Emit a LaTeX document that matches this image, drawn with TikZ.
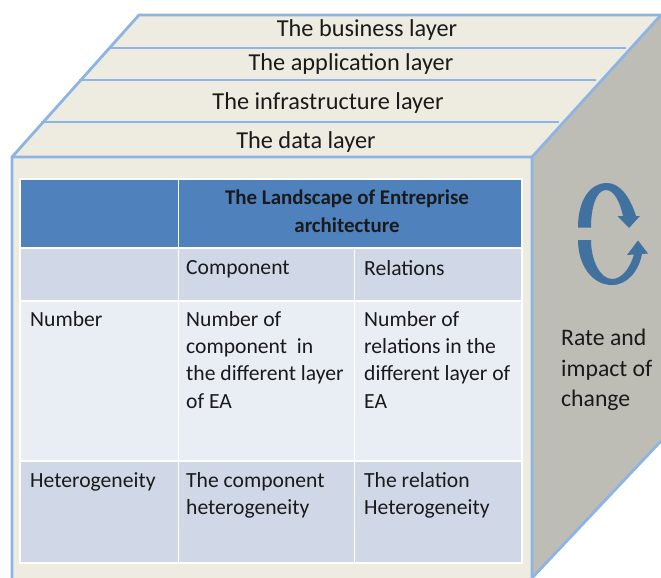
\documentclass[tikz,border=0pt]{standalone}
\usepackage{fontspec}
\setmainfont{Carlito}
\definecolor{facecol}{HTML}{EEECE1}
\definecolor{sidecol}{HTML}{BEBDB5}
\definecolor{edgecol}{HTML}{8DB4E3}
\definecolor{headcol}{HTML}{4F81BD}
\definecolor{banddark}{HTML}{D0D8E8}
\definecolor{bandlight}{HTML}{E9EDF4}
\definecolor{arrowcol}{HTML}{41719F}
\definecolor{textcol}{HTML}{1A1A1A}
\tikzset{
  edge line/.style={draw=edgecol,line width=2.8pt,line join=miter},
  layer line/.style={draw=edgecol,line width=1.6pt},
  layer text/.style={font=\fontsize{24.4}{27}\selectfont,text=textcol,inner sep=0pt,anchor=center},
  cell text/.style={font=\fontsize{21.7}{27.4}\selectfont,text=textcol,inner sep=0pt,anchor=north west,align=left},
  head text/.style={font=\bfseries\fontsize{21}{28}\selectfont,text=textcol,inner sep=0pt,align=center},
  cell line/.style={draw=white,line width=1.8pt},
  loop arrow/.style={fill=arrowcol,draw=none}
}
\begin{document}
\begin{tikzpicture}[x=1bp,y=-1bp]
\useasboundingbox[fill=white] (0,0) rectangle (661,578);
% faces
\path[fill=sidecol] (532,157) -- (661,15) -- (661,441) -- (532,578) -- cycle;
\path[fill=facecol] (12,157) -- (139,15) -- (661,15) -- (532,157) -- cycle;
\path[fill=facecol] (12,157) rectangle (532,578);
% layer separators
\draw[layer line] (109,48) -- (626,48);
\draw[layer line] (79,80) -- (596,80);
\draw[layer line] (41,122) -- (559,122);
% cube edges
\draw[edge line] (12,578) -- (12,157) -- (139,15) -- (661,15);
\draw[edge line] (12,157) -- (532,157) -- (661,15);
\draw[edge line] (532,157) -- (532,578) -- (661,441);
% layer labels
\node[layer text] (business) at (367,30) {The business layer};
\node[layer text] (application) at (351,64) {The application layer};
\node[layer text] (infrastructure) at (328,103) {The infrastructure layer};
\node[layer text] (data) at (306,142) {The data layer};
% table fills
\fill[headcol] (20,179) rectangle (522,248);
\fill[banddark] (20,248) rectangle (522,301);
\fill[bandlight] (20,301) rectangle (522,461);
\fill[banddark] (20,461) rectangle (522,563);
% table grid
\draw[cell line] (19,179) -- (523,179);
\draw[cell line] (19,248) -- (523,248);
\draw[cell line] (19,301) -- (523,301);
\draw[cell line] (19,461) -- (523,461);
\draw[cell line] (19,563) -- (523,563);
\draw[cell line] (20,179) -- (20,563);
\draw[cell line] (178.5,179) -- (178.5,563);
\draw[cell line] (354.5,248) -- (354.5,563);
\draw[cell line] (522,179) -- (522,563);
% table text
\node[head text] (title) at (347,211) {The Landscape of Entreprise\\architecture};
\node[cell text] (component) at (186,260) {Component};
\node[cell text] (relations) at (364,260) {Relations};
\node[cell text] (number) at (30,311) {Number};
\node[cell text] (ncomp) at (186,311) {Number of\\component\ \ in\\the different layer\\of EA};
\node[cell text] (nrel) at (364,311) {Number of\\relations in the\\different layer of\\EA};
\node[cell text] (hetero) at (30,472) {Heterogeneity};
\node[cell text] (tcomp) at (186,472) {The component\\heterogeneity};
\node[cell text] (trel) at (364,472) {The relation\\Heterogeneity};
% side label
\node[font=\fontsize{23.8}{30.5}\selectfont,text=textcol,inner sep=0pt,anchor=north west,align=left] (rate) at (561,329) {Rate and\\impact of\\change};
% cycle arrows
\path[loop arrow] (578,227.5) .. controls (578,200) and (590,183) .. (607,183)
  .. controls (620,183) and (630,197) .. (636,216) -- (640,216) -- (629,228) -- (617.5,216) -- (623,216)
  .. controls (620,202) and (614,190) .. (606,190) .. controls (596,190) and (591,208) .. (591,227.5) -- cycle;
\path[loop arrow] (578,240) .. controls (578,265) and (592,285) .. (612,285)
  .. controls (628,285) and (639,270) .. (642,254) -- (648,253.5) -- (638,240.5) -- (627,255) -- (634,254.5)
  .. controls (630,268) and (622,279) .. (612,279) .. controls (600,279) and (591,260) .. (591,240) -- cycle;
\end{tikzpicture}
\end{document}
